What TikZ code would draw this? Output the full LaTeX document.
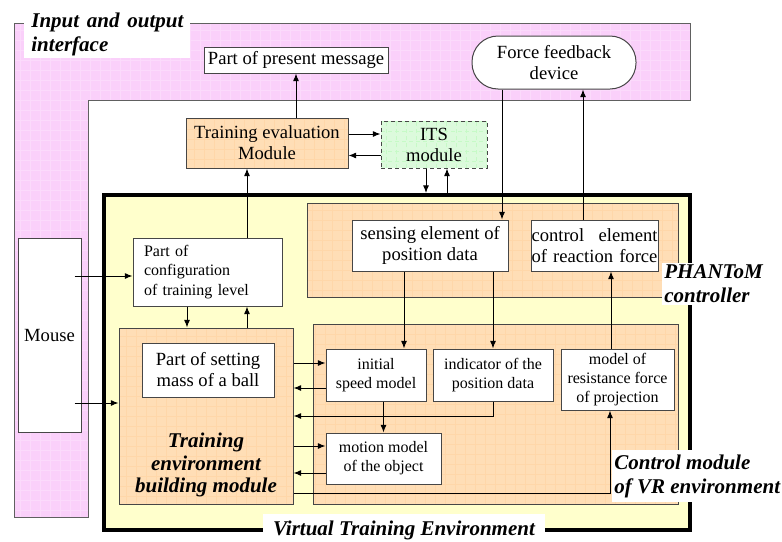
\documentclass[tikz,border=0pt]{standalone}
\usepackage{fontspec}
\setmainfont{Liberation Serif}
\usetikzlibrary{arrows.meta, calc}

\definecolor{pinkfill}{RGB}{250,208,250}
\definecolor{peachfill}{RGB}{255,222,182}
\definecolor{vtefill}{RGB}{255,255,204}
\definecolor{itsfill}{RGB}{220,250,220}
\definecolor{edgegray}{RGB}{70,70,70}

\begin{document}
\begin{tikzpicture}[
        x=0.5pt, y=-0.5pt,
        >={Latex[length=3.8pt,width=3pt]},
        every node/.style={align=center, inner sep=1pt},
        bigtext/.style={font=\fontsize{9.3}{10.5}\selectfont},
        smalltext/.style={font=\fontsize{8}{9.6}\selectfont},
        tagtext/.style={font=\fontsize{10.5}{12}\selectfont\bfseries\itshape},
        hatch/.style={path picture={\draw[#1, line width=0.4pt, step=5pt]
            (path picture bounding box.south west) grid (path picture bounding box.north east);}},
        whitebox/.style={draw=edgegray, line width=0.5pt, fill=white},
        peachbox/.style={draw=edgegray, line width=0.5pt, fill=peachfill, hatch=peachfill!93!orange},
        regionbox/.style={peachbox, inner sep=0pt},
        tag/.style={tagtext, fill=white, align=left},
        line/.style={->, line width=0.5pt}
    ]
    \useasboundingbox (0,0) rectangle (782,541);

    % input and output interface band
    \path[fill=pinkfill, hatch=pinkfill!80!white, draw=gray!75!black, line width=0.5pt]
        (14,23) -- (690,23) -- (690,100) -- (88,100) -- (88,517) -- (14,517) -- cycle;
    \node[tag, anchor=south west, inner xsep=3.5pt, text width=76pt] (iotag) at (24,58)
        {Input\hfill and\hfill output\\interface};

    \node[whitebox, bigtext, minimum width=92pt, minimum height=13pt] (present) at (296,60) {Part of present message};
    \node[whitebox, bigtext, rounded corners=13pt, minimum width=82pt, minimum height=26.5pt] (ffd) at (554,62.5) {Force feedback\\device};
    \node[whitebox, bigtext, minimum width=31.5pt, minimum height=97pt] (mouse) at (49.5,335) {Mouse};

    \node[peachbox, bigtext, minimum width=81pt, minimum height=25pt] (teval) at (267,143) {Training evaluation\\Module};
    \node[whitebox, bigtext, dash pattern=on 2pt off 1.5pt, fill=itsfill, hatch=itsfill!90!green,
        minimum width=53pt, minimum height=23.5pt] (its) at (434,144.5) {ITS\\module};

    % virtual training environment
    \node[draw=black, line width=2pt, fill=vtefill, minimum width=293pt, minimum height=167.5pt, inner sep=0pt] (vte) at (397,362.5) {};
    \node[regionbox, minimum width=185.5pt, minimum height=47pt] (phantom) at (492.5,250) {};
    \node[regionbox, minimum width=182.5pt, minimum height=90pt] (ctrlmod) at (495.5,414) {};
    \node[regionbox, minimum width=87pt, minimum height=88pt] (tebm) at (206,416) {};
    \node[tagtext, font=\fontsize{10.5}{11.25}\selectfont\bfseries\itshape] (tebmtag) at (206,465) {Training\\environment\\building module};

    \node[whitebox, smalltext, align=left, text width=63.5pt, inner xsep=5.5pt, minimum height=34pt] (cfg) at (207.5,272) {Part of\\configuration\\of training level};
    \node[whitebox, bigtext, minimum width=66pt, minimum height=27pt] (setmass) at (208,370) {Part of setting\\mass of a ball};
    \node[whitebox, bigtext, minimum width=78pt, minimum height=25.5pt] (sensing) at (430,245.5) {sensing element of\\position data};
    \node[whitebox, bigtext, align=left, text width=63pt, inner xsep=0.25pt, minimum height=25.5pt] (ctrlel) at (594.5,245.5) {control\hfill element\\of reaction force};
    \node[whitebox, smalltext, minimum width=50pt, minimum height=26pt] (initsp) at (376,375) {initial\\speed model};
    \node[whitebox, smalltext, minimum width=60pt, minimum height=26pt] (indic) at (493,375) {indicator of the\\position data};
    \node[whitebox, smalltext, minimum width=56.5pt, minimum height=30.5pt] (resist) at (617.5,379.5) {model of\\resistance force\\of projection};
    \node[whitebox, smalltext, minimum width=57.5pt, minimum height=25.5pt] (motion) at (383.5,458.5) {motion model\\of the object};

    % connections
    \draw[line] (teval.north -| present.south) -- (present.south);
    \draw[line] ([yshift=4.5pt]teval.east) -- ([yshift=4.5pt]teval.east -| its.west);
    \draw[line] ([yshift=-5.5pt]its.west) -- ([yshift=-5.5pt]its.west -| teval.east);
    \draw[line] ([xshift=-4pt]its.south) -- ([xshift=-4pt]its.south |- vte.north);
    \draw[line] ([xshift=6.5pt]its.south |- vte.north) -- ([xshift=6.5pt]its.south);
    \draw[line] ([xshift=36pt]sensing.north |- ffd.south) -- ([xshift=36pt]sensing.north);
    \draw[line] ([xshift=-5.75pt]ctrlel.north) -- ([xshift=-5.75pt]ctrlel.north |- ffd.south);

    \draw[line] ([xshift=19.75pt]cfg.north) -- ([xshift=19.75pt]cfg.north |- teval.south);
    \draw[line] ([xshift=19.75pt]cfg.south |- tebm.north) -- ([xshift=19.75pt]cfg.south);
    \draw[line] ([xshift=-10.25pt]cfg.south) -- ([xshift=-10.25pt]cfg.south |- tebm.north);
    \draw[line] ($(mouse.east |- cfg.west)+(-3.5pt,-2pt)$) -- ([yshift=-2pt]cfg.west);
    \draw[line] ($(mouse.east |- tebm.west)+(-3.5pt,6.5pt)$) -- ([yshift=6.5pt]tebm.west);

    \draw[line] ([xshift=14pt]initsp.north |- sensing.south) -- ([xshift=14pt]initsp.north);
    \draw[line] (sensing.south -| indic.north) -- (indic.north);
    \draw[line] ($(tebm.east |- initsp.west)+(0,6pt)$) -- ([yshift=6pt]initsp.west);
    \draw[line] ([yshift=-6.5pt]initsp.west) -- ($(tebm.east |- initsp.west)+(0,-6.5pt)$);
    \draw[line] (indic.south) |- (tebm.east);
    \draw[line] (initsp.south -| motion.north) -- (motion.north);
    \draw[line] ($(tebm.east |- motion.west)+(0,6.25pt)$) -- ([yshift=6.25pt]motion.west);
    \draw[line] ([yshift=-7.25pt]motion.west) -- ($(tebm.east |- motion.west)+(0,-7.25pt)$);
    \draw[line] ($(tebm.east)+(0,-38.5pt)$) -| ([xshift=-3.75pt]resist.south);
    \draw[line] ([xshift=-3.25pt]resist.north) -- ([xshift=-3.25pt]resist.north |- ctrlel.south);

    % labels on the frames
    \node[tag, anchor=west] (phtag) at (662,284) {PHANToM\\controller};
    \node[tag, anchor=west, inner ysep=2pt] (cmtag) at (612,476) {Control module\\of VR environment};
    \node[tag, anchor=base, inner xsep=5pt, inner ysep=3pt] (vtetag) at (404,535) {Virtual Training Environment};
\end{tikzpicture}
\end{document}
